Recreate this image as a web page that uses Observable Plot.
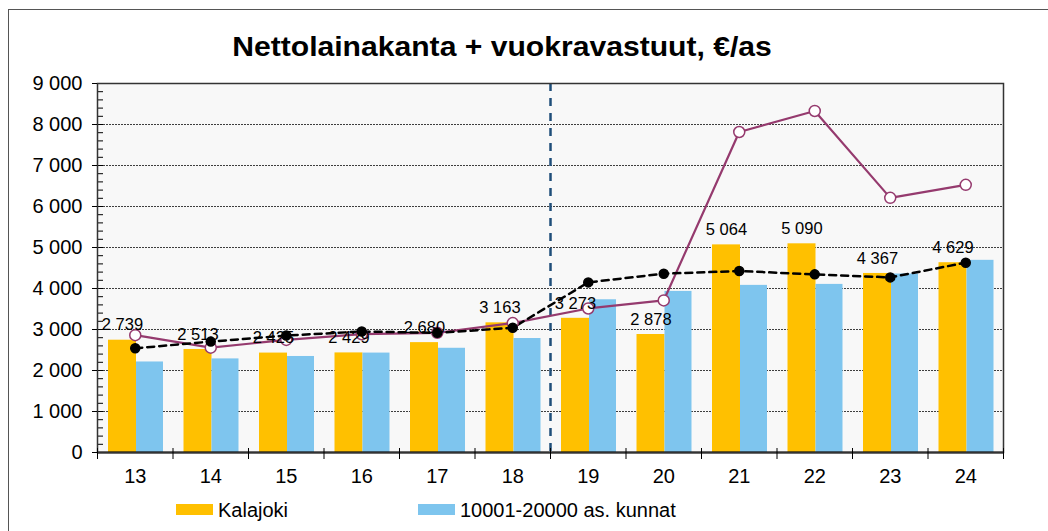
<!DOCTYPE html>
<html>
<head>
<meta charset="utf-8">
<script src="https://cdn.jsdelivr.net/npm/d3@7"></script>
<script src="https://cdn.jsdelivr.net/npm/@observablehq/plot@0.6"></script>
<style>
  body { margin: 0; background: #fff; font-family: "Liberation Sans", Arial, sans-serif; }
  #wrap { position: relative; width: 1048px; height: 531px; overflow: hidden; }
  #border { position: absolute; left: 8px; top: 9px; right: 0; bottom: 0; border-left: 1.5px solid #555; border-top: 1.5px solid #555; }
  #title { position: absolute; left: 0; top: 33.5px; width: 1004px; text-align: center; font-size: 27px; line-height: 27px; font-weight: bold; color: #000; transform: scaleX(1.115); transform-origin: 502px 50%; }
  #chart { position: absolute; left: 0; top: 0; }
  .sw { position: absolute; top: 504px; width: 37px; height: 11px; }
  .lt { position: absolute; top: 500px; font-size: 20px; line-height: 20px; color: #000; white-space: nowrap; }
</style>
</head>
<body>
<div id="wrap">
  <div id="border"></div>
  <div id="chart"></div>
  <div id="title">Nettolainakanta + vuokravastuut, €/as</div>
  <div class="sw" style="left:176px;background:#FFC000"></div>
  <div class="lt" style="left:218px">Kalajoki</div>
  <div class="sw" style="left:418px;background:#7EC5EE"></div>
  <div class="lt" style="left:460px">10001-20000 as. kunnat</div>
</div>
<script>
const years = ["13","14","15","16","17","18","19","20","21","22","23","24"];
const kalajoki = [2739, 2513, 2425, 2429, 2680, 3163, 3273, 2878, 5064, 5090, 4367, 4629];
const kunnat = [2208, 2283, 2342, 2425, 2542, 2780, 3725, 3929, 4076, 4100, 4353, 4687];
const purpleSeries = [2861, 2557, 2746, 2885, 2918, 3156, 3513, 3709, 7817, 8330, 6211, 6529];
const blackSeries = [2541, 2705, 2852, 2951, 2918, 3041, 4149, 4361, 4426, 4345, 4271, 4630];
const yTicks = [0, 1000, 2000, 3000, 4000, 5000, 6000, 7000, 8000, 9000];
const gridTicks = [1000, 2000, 3000, 4000, 5000, 6000, 7000, 8000];
const minorTicks = d3.range(0, 9001, 200);
const splitYear = "19";

const rows = years.map((y, i) => ({year: y, kalajoki: kalajoki[i], kunnat: kunnat[i], purple: purpleSeries[i], black: blackSeries[i]}));
const fmt = d => d3.format(",")(d).replace(/,/g, " ");

const W = 1048, H = 531, mL = 97, mR = 45;
const bw = (W - mL - mR) / years.length;

const chart = Plot.plot({
  width: W, height: H,
  marginTop: 83, marginBottom: 79, marginLeft: mL, marginRight: mR,
  x: {type: "band", domain: years, padding: 0, round: false, label: null},
  y: {domain: [0, 9000], label: null},
  style: {fontFamily: "Liberation Sans, Arial, sans-serif", fontSize: "20px", color: "#000", background: "transparent", overflow: "visible"},
  marks: [
    Plot.frame({fill: "#f8f8f8", stroke: null}),
    Plot.gridY(gridTicks, {stroke: "#000", strokeOpacity: 0.75, strokeDasharray: "2,1", strokeWidth: 1}),
    Plot.tickY(minorTicks, {y: d => d, x: () => years[0], insetRight: bw - 6, stroke: "#000", strokeWidth: 1}),
    Plot.barY(rows, {x: "year", y: "kalajoki", fill: "#FFC000", insetLeft: 11, insetRight: bw - 39}),
    Plot.barY(rows, {x: "year", y: "kunnat", fill: "#7EC5EE", insetLeft: 39, insetRight: 9.5}),
    Plot.ruleX([splitYear], {dx: -bw / 2, stroke: "#1F4E79", strokeWidth: 2.5, strokeDasharray: "8,7"}),
    Plot.line(rows, {x: "year", y: "purple", stroke: "#953A6E", strokeWidth: 2.2}),
    Plot.line(rows, {x: "year", y: "black", stroke: "#000", strokeWidth: 2.5, strokeDasharray: "7,5"}),
    Plot.dot(rows, {x: "year", y: "purple", r: 5.5, fill: "#fff", stroke: "#953A6E", strokeWidth: 1.5}),
    Plot.dot(rows, {x: "year", y: "black", r: 4.5, fill: "#000", stroke: "#000"}),
    Plot.text(rows, {x: "year", y: "kalajoki", text: d => fmt(d.kalajoki), dx: 25 - bw / 2, dy: -15, fontSize: 16.5, fill: "#000"}),
    Plot.ruleY([0], {stroke: "#000", strokeWidth: 1.8}),
    Plot.frame({stroke: "#333", strokeWidth: 1.5}),
    Plot.axisY(yTicks, {tickSize: 5, tickPadding: 10, tickFormat: fmt, label: null, fontSize: 20}),
    Plot.axisX({tickSize: 0, tickPadding: 16, label: null, fontSize: 20}),
    Plot.axisX(years, {tickSize: 11, dy: -4, dx: -bw / 2, tickFormat: () => "", label: null}),
    Plot.axisX([years[years.length - 1]], {tickSize: 11, dy: -4, dx: bw / 2, tickFormat: () => "", label: null})
  ]
});
document.getElementById("chart").appendChild(chart);
</script>
</body>
</html>
